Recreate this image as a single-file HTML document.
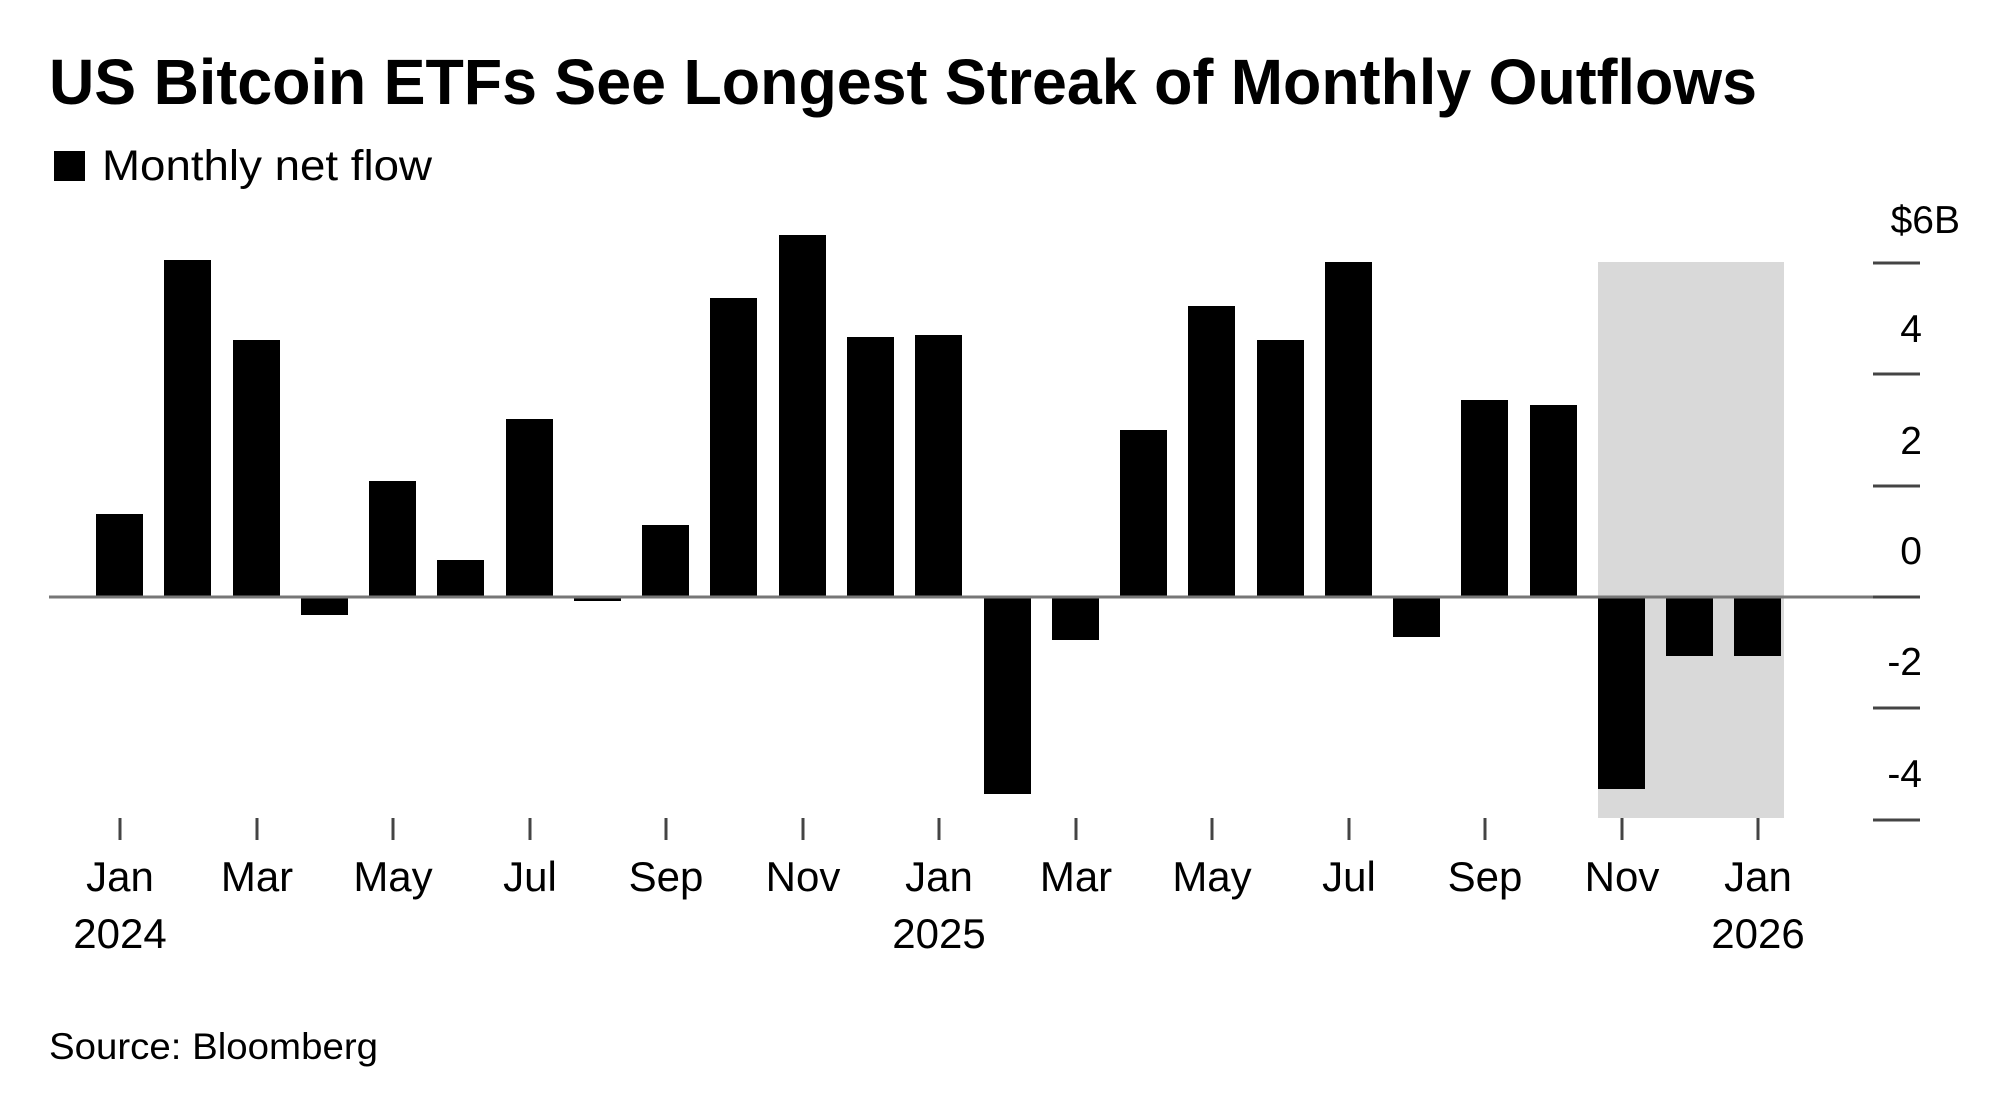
<!DOCTYPE html>
<html><head><meta charset="utf-8"><style>
html,body{margin:0;padding:0;background:#fff;}
svg{display:block;font-family:"Liberation Sans",Arial,sans-serif;}
</style></head><body>
<svg width="2000" height="1108" viewBox="0 0 2000 1108" xmlns="http://www.w3.org/2000/svg">
<rect width="2000" height="1108" fill="#fff"/>
<text x="49" y="104" font-size="64" font-weight="bold" fill="#000" textLength="1708" lengthAdjust="spacingAndGlyphs">US Bitcoin ETFs See Longest Streak of Monthly Outflows</text>
<rect x="54" y="151" width="31" height="30" fill="#000"/>
<text x="102" y="180" font-size="43" fill="#000" textLength="330" lengthAdjust="spacingAndGlyphs">Monthly net flow</text>
<rect x="1598" y="262" width="186" height="556" fill="#d9d9d9"/>
<g fill="#000">
<rect x="96" y="514" width="47" height="83"/>
<rect x="164" y="260" width="47" height="337"/>
<rect x="233" y="340" width="47" height="257"/>
<rect x="301" y="597" width="47" height="18"/>
<rect x="369" y="481" width="47" height="116"/>
<rect x="437" y="560" width="47" height="37"/>
<rect x="506" y="419" width="47" height="178"/>
<rect x="574" y="597" width="47" height="4"/>
<rect x="642" y="525" width="47" height="72"/>
<rect x="710" y="298" width="47" height="299"/>
<rect x="779" y="235" width="47" height="362"/>
<rect x="847" y="337" width="47" height="260"/>
<rect x="915" y="335" width="47" height="262"/>
<rect x="984" y="597" width="47" height="197"/>
<rect x="1052" y="597" width="47" height="43"/>
<rect x="1120" y="430" width="47" height="167"/>
<rect x="1188" y="306" width="47" height="291"/>
<rect x="1257" y="340" width="47" height="257"/>
<rect x="1325" y="262" width="47" height="335"/>
<rect x="1393" y="597" width="47" height="40"/>
<rect x="1461" y="400" width="47" height="197"/>
<rect x="1530" y="405" width="47" height="192"/>
<rect x="1598" y="597" width="47" height="192"/>
<rect x="1666" y="597" width="47" height="59"/>
<rect x="1734" y="597" width="47" height="59"/>
</g>
<line x1="49" y1="597" x2="1920" y2="597" stroke="#777" stroke-width="3"/>
<g stroke="#444" stroke-width="3">
<line x1="1873" y1="263" x2="1920" y2="263"/>
<line x1="1873" y1="374" x2="1920" y2="374"/>
<line x1="1873" y1="486" x2="1920" y2="486"/>
<line x1="1873" y1="597" x2="1920" y2="597"/>
<line x1="1873" y1="708" x2="1920" y2="708"/>
<line x1="1873" y1="820" x2="1920" y2="820"/>
</g>
<g font-size="39" fill="#000" text-anchor="end">
<text x="1960" y="233">$6B</text>
<text x="1922" y="342">4</text>
<text x="1922" y="454">2</text>
<text x="1922" y="564">0</text>
<text x="1922" y="675">-2</text>
<text x="1922" y="787">-4</text>
</g>
<g stroke="#444" stroke-width="3">
<line x1="120" y1="818" x2="120" y2="840"/>
<line x1="257" y1="818" x2="257" y2="840"/>
<line x1="393" y1="818" x2="393" y2="840"/>
<line x1="530" y1="818" x2="530" y2="840"/>
<line x1="666" y1="818" x2="666" y2="840"/>
<line x1="803" y1="818" x2="803" y2="840"/>
<line x1="939" y1="818" x2="939" y2="840"/>
<line x1="1076" y1="818" x2="1076" y2="840"/>
<line x1="1212" y1="818" x2="1212" y2="840"/>
<line x1="1349" y1="818" x2="1349" y2="840"/>
<line x1="1485" y1="818" x2="1485" y2="840"/>
<line x1="1622" y1="818" x2="1622" y2="840"/>
<line x1="1758" y1="818" x2="1758" y2="840"/>
</g>
<g font-size="42" fill="#000" text-anchor="middle">
<text x="120" y="891">Jan</text>
<text x="257" y="891">Mar</text>
<text x="393" y="891">May</text>
<text x="530" y="891">Jul</text>
<text x="666" y="891">Sep</text>
<text x="803" y="891">Nov</text>
<text x="939" y="891">Jan</text>
<text x="1076" y="891">Mar</text>
<text x="1212" y="891">May</text>
<text x="1349" y="891">Jul</text>
<text x="1485" y="891">Sep</text>
<text x="1622" y="891">Nov</text>
<text x="1758" y="891">Jan</text>
<text x="120" y="948">2024</text>
<text x="939" y="948">2025</text>
<text x="1758" y="948">2026</text>
</g>
<text x="49" y="1059" font-size="37" fill="#000" textLength="329" lengthAdjust="spacingAndGlyphs">Source: Bloomberg</text>
</svg>
</body></html>
